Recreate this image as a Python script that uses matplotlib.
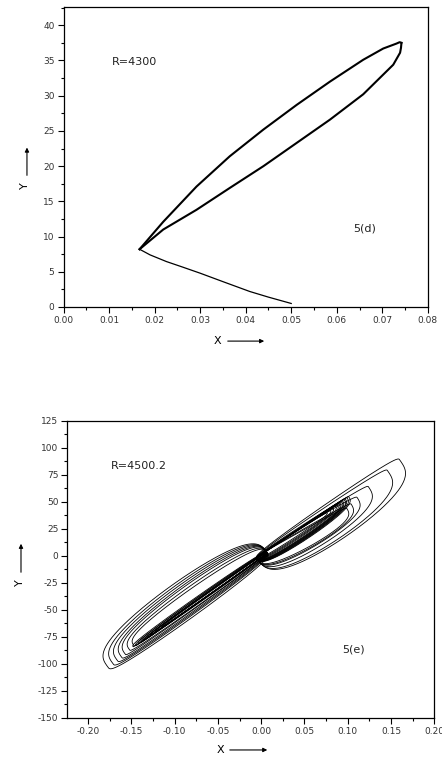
import numpy as np
import matplotlib.pyplot as plt
from matplotlib.ticker import MultipleLocator, FormatStrFormatter

plt.rcParams['font.family'] = ['DejaVu Sans']
plt.rcParams['axes.unicode_minus'] = False

# ---- panel 5(d), R=4300 ----
tail_x = [0.0500, 0.0450, 0.0409, 0.0350, 0.0300, 0.0260, 0.0226, 0.0190, 0.0167]
tail_y = [0.5, 1.4, 2.2, 3.6, 4.8, 5.7, 6.45, 7.4, 8.2]

upper_x = [0.0167, 0.0219, 0.0292, 0.0365, 0.0439, 0.0512, 0.0585, 0.0658, 0.0702, 0.0731, 0.0738, 0.0742]
upper_y = [8.2, 12.1, 17.1, 21.4, 25.2, 28.7, 32.0, 35.1, 36.7, 37.4, 37.6, 37.5]

lower_x = [0.0742, 0.0741, 0.0739, 0.0724, 0.0658, 0.0585, 0.0512, 0.0439, 0.0365, 0.0292, 0.0219, 0.0167]
lower_y = [37.5, 36.8, 36.1, 34.4, 30.2, 26.6, 23.3, 20.0, 16.9, 13.8, 11.0, 8.2]

# ---- panel 5(e), R=4500.2 : loops read as (tip x, tip y, outer width, inner width) ----
left_start = (0.007, 3.0)
left_tip_x = [-0.177, -0.171, -0.166, -0.161, -0.157, -0.152, -0.147]
left_tip_y = [-103, -100, -97, -94, -91, -87, -83]
left_w_out = [27, 25, 23, 21, 19, 16, 13]
left_w_in = [8, 6, 5, 4, 3, 3, 2]

left_thin_x = [-0.148, -0.145, -0.142, -0.139, -0.136, -0.132, -0.128, -0.122, -0.115]
left_thin_y = [-84, -83, -81, -80, -78, -76, -73, -70, -66]
left_thin_w = [4, 3.5, 3, 2.5, 2, 2, 1.5, 1.5, 1]

right_start = (-0.005, -2.0)
right_tip_x = [0.160, 0.146, 0.124, 0.111, 0.104, 0.099]
right_tip_y = [89, 79, 64, 54, 48, 44]
right_w_out = [30, 27, 22, 18, 16, 14]
right_w_in = [5, 4, 3, 3, 2, 2]

right_thin_x = [0.101, 0.099, 0.097, 0.096, 0.094, 0.093, 0.091, 0.090, 0.088, 0.086, 0.083, 0.080, 0.076]
right_thin_y = [55, 54, 53, 52, 51, 50, 49, 48, 47, 46, 44, 42, 40]
right_thin_w = [11, 10.5, 10, 9.5, 9, 8.5, 8, 7.5, 7, 6, 5, 4, 3]

KX = 795.0   # x scale that makes both axes comparable on screen
P = 0.6


def loop(start, tip, w_out, w_in, n=300):
    sx, sy = start
    dx = (tip[0] - sx) * KX
    dy = tip[1] - sy
    L = np.hypot(dx, dy)
    d0, d1 = dx / L, dy / L
    n0, n1 = d1, -d0
    t = np.linspace(0, 2 * np.pi, n)
    u = L * (1 - np.cos(t)) / 2
    s = np.sin(t)
    v = np.where(s > 0, w_out, -w_in) * np.abs(s) ** P
    return sx + (u * d0 + v * n0) / KX, sy + u * d1 + v * n1


fig = plt.figure(figsize=(4.42, 7.58), dpi=100)


def style(ax):
    ax.tick_params(which='both', direction='out', top=False, right=False,
                   labelsize=6.5, labelcolor='#333333', width=0.8)
    ax.tick_params(which='major', length=4, pad=2.5)
    ax.tick_params(which='minor', length=2)
    for sp in ax.spines.values():
        sp.set_linewidth(0.9)


ax1 = fig.add_axes([0.1437, 0.595, 0.8243, 0.3958])
ax1.plot(tail_x, tail_y, color='black', lw=0.9)
ax1.plot(upper_x, upper_y, color='black', lw=1.5)
ax1.plot(lower_x, lower_y, color='black', lw=1.5)
ax1.set_xlim(0, 0.08)
ax1.set_ylim(0, 42.6)
ax1.xaxis.set_major_locator(MultipleLocator(0.01))
ax1.xaxis.set_minor_locator(MultipleLocator(0.005))
ax1.xaxis.set_major_formatter(FormatStrFormatter('%.2f'))
ax1.yaxis.set_major_locator(MultipleLocator(5))
ax1.yaxis.set_minor_locator(MultipleLocator(2.5))
style(ax1)
ax1.text(0.0106, 34.8, 'R=4300', fontsize=8, va='center', color='#222222')
ax1.text(0.0635, 11.2, '5(d)', fontsize=8, va='center', color='#222222')

ax2 = fig.add_axes([0.1523, 0.0528, 0.8303, 0.3918])
for i in range(len(left_tip_x)):
    x, y = loop(left_start, (left_tip_x[i], left_tip_y[i]), left_w_out[i], left_w_in[i])
    ax2.plot(x, y, color='black', lw=0.6)
for i in range(len(left_thin_x)):
    x, y = loop(left_start, (left_thin_x[i], left_thin_y[i]), left_thin_w[i], 0.8)
    ax2.plot(x, y, color='black', lw=0.6)
for i in range(len(right_tip_x)):
    x, y = loop(right_start, (right_tip_x[i], right_tip_y[i]), right_w_out[i], right_w_in[i])
    ax2.plot(x, y, color='black', lw=0.6)
for i in range(len(right_thin_x)):
    x, y = loop(right_start, (right_thin_x[i], right_thin_y[i]), right_thin_w[i], 1.0)
    ax2.plot(x, y, color='black', lw=0.6)
ax2.set_xlim(-0.224, 0.2)
ax2.set_ylim(-150, 125)
ax2.xaxis.set_major_locator(MultipleLocator(0.05))
ax2.xaxis.set_minor_locator(MultipleLocator(0.025))
ax2.xaxis.set_major_formatter(FormatStrFormatter('%.2f'))
ax2.yaxis.set_major_locator(MultipleLocator(25))
ax2.yaxis.set_minor_locator(MultipleLocator(12.5))
style(ax2)
ax2.text(-0.174, 83, 'R=4500.2', fontsize=8, va='center', color='#222222')
ax2.text(0.093, -87, '5(e)', fontsize=8, va='center', color='#222222')

# axis names with arrows
arrow = dict(arrowstyle='-|>', color='black', lw=0.8, mutation_scale=6)
fig.text(0.0566, 0.7546, 'Y', rotation=90, fontsize=8, ha='center', va='center')
fig.add_artist(plt.Annotation('', xy=(0.061, 0.809), xytext=(0.061, 0.765),
                              xycoords='figure fraction', arrowprops=arrow))
fig.text(0.493, 0.550, 'X', fontsize=8, ha='center', va='center')
fig.add_artist(plt.Annotation('', xy=(0.604, 0.550), xytext=(0.509, 0.550),
                              xycoords='figure fraction', arrowprops=arrow))
fig.text(0.045, 0.232, 'Y', rotation=90, fontsize=8, ha='center', va='center')
fig.add_artist(plt.Annotation('', xy=(0.0475, 0.2863), xytext=(0.0475, 0.2414),
                              xycoords='figure fraction', arrowprops=arrow))
fig.text(0.498, 0.0106, 'X', fontsize=8, ha='center', va='center')
fig.add_artist(plt.Annotation('', xy=(0.611, 0.0106), xytext=(0.5136, 0.0106),
                              xycoords='figure fraction', arrowprops=arrow))

fig.savefig('out.png', dpi=100)
